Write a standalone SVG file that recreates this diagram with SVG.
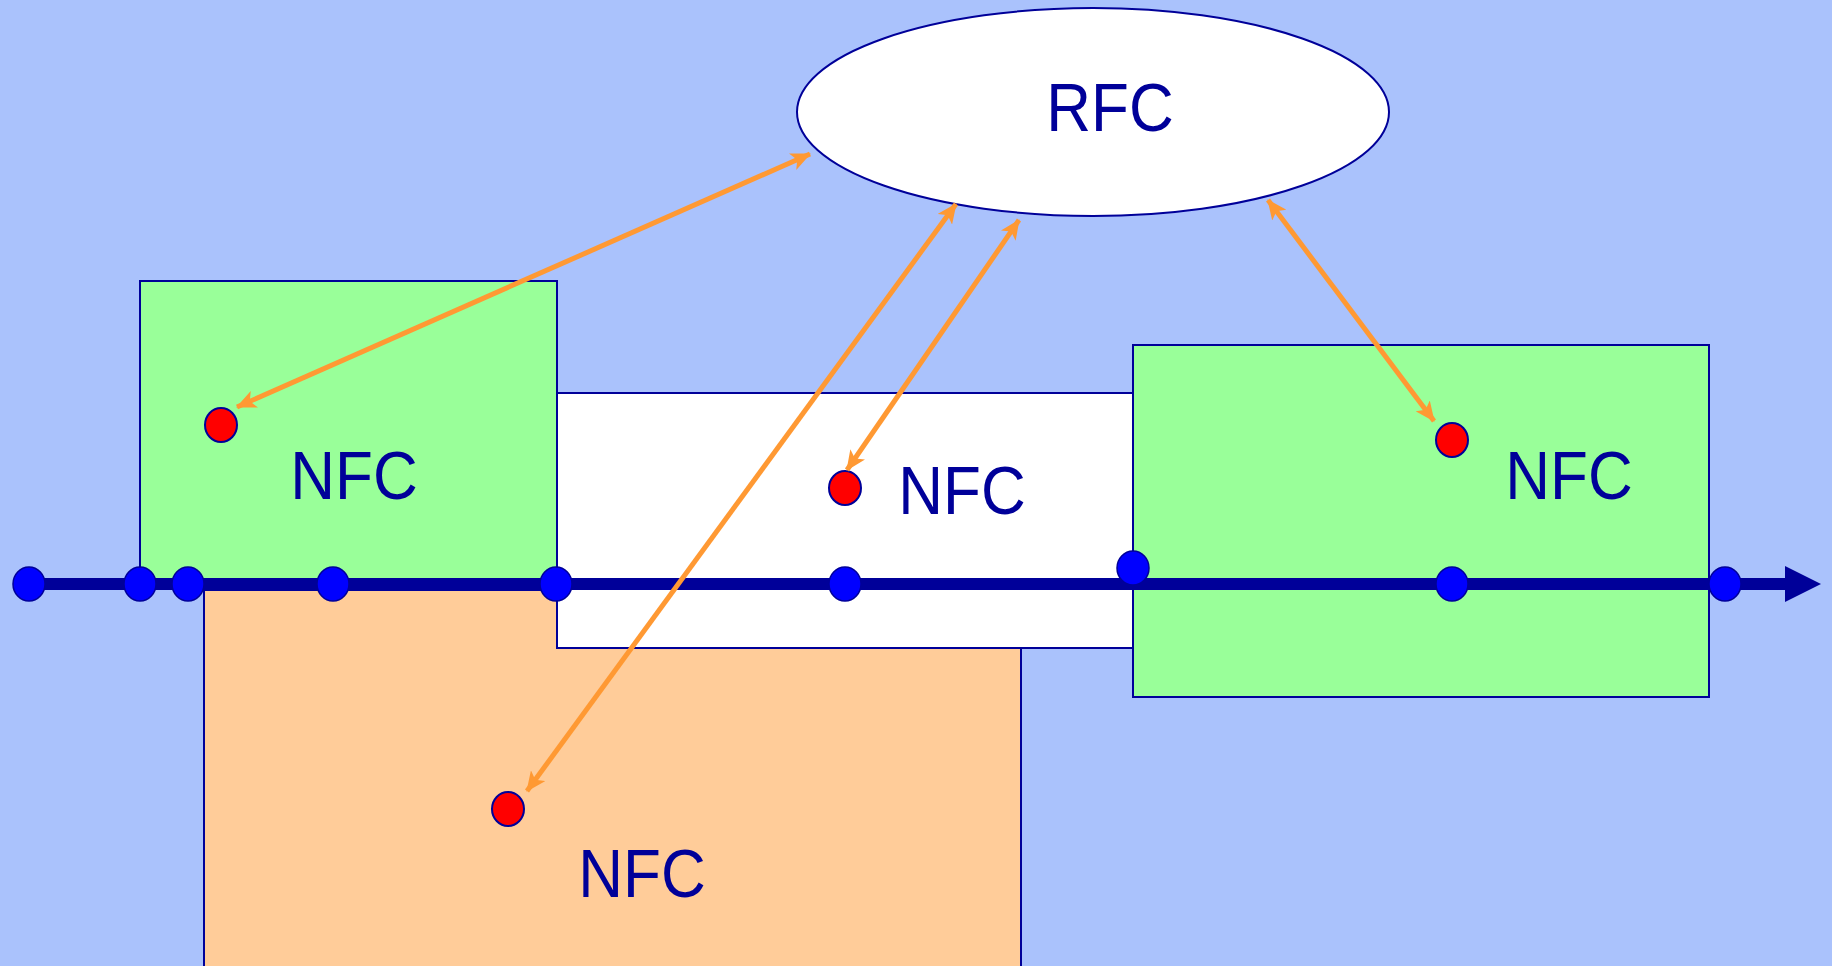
<svg xmlns="http://www.w3.org/2000/svg" width="1832" height="966" viewBox="0 0 1832 966">
<style>
.box{stroke:#000099;stroke-width:2}
.lbl{font-family:"Liberation Sans",Arial,sans-serif;font-size:62px;fill:#000099;text-anchor:middle}
.bd{fill:#0000FF;stroke:#000099;stroke-width:1.5}
.rd{fill:#FF0000;stroke:#000099;stroke-width:2}
.con{stroke:#FF9933;stroke-width:5;fill:none;marker-start:url(#ah);marker-end:url(#ah)}
</style>
<defs>
<marker id="ah" markerUnits="userSpaceOnUse" markerWidth="22" markerHeight="18" refX="19" refY="9" orient="auto-start-reverse">
<path d="M0,0 L20,9 L0,18 L5,9 Z" fill="#FF9933"/>
</marker>
</defs>
<rect x="0" y="0" width="1832" height="966" fill="#AAC2FC"/>
<g id="nfc-orange">
<rect class="box" x="204" y="590" width="817" height="390" fill="#FFCC99"/>
</g>
<g id="nfc-green-left">
<rect class="box" x="140" y="281" width="417" height="303" fill="#99FF99"/>
</g>
<g id="nfc-white">
<rect class="box" x="557" y="393" width="576" height="255" fill="#FFFFFF"/>
</g>
<g id="nfc-green-right">
<rect class="box" x="1133" y="345" width="576" height="352" fill="#99FF99"/>
</g>
<g id="rfc">
<ellipse class="box" cx="1093" cy="112" rx="296" ry="104" fill="#FFFFFF"/>
<text class="lbl" transform="translate(1110,131) scale(1,1.1)">RFC</text>
</g>
<g id="axis">
<line x1="29" y1="584" x2="1790" y2="584" stroke="#000099" stroke-width="12"/>
<path d="M1785,566 L1821,584 L1785,602 Z" fill="#000099"/>
</g>
<g id="points">
<ellipse class="bd" cx="29" cy="584" rx="16" ry="17"/>
<ellipse class="bd" cx="140" cy="584" rx="16" ry="17"/>
<ellipse class="bd" cx="188" cy="584" rx="16" ry="17"/>
<ellipse class="bd" cx="333" cy="584" rx="16" ry="17"/>
<ellipse class="bd" cx="556" cy="584" rx="16" ry="17"/>
<ellipse class="bd" cx="845" cy="584" rx="16" ry="17"/>
<ellipse class="bd" cx="1133" cy="568" rx="16" ry="17"/>
<ellipse class="bd" cx="1452" cy="584" rx="16" ry="17"/>
<ellipse class="bd" cx="1725" cy="584" rx="16" ry="17"/>
</g>
<g id="labels">
<text class="lbl" transform="translate(354,499) scale(1,1.1)">NFC</text>
<text class="lbl" transform="translate(962,514) scale(1,1.1)">NFC</text>
<text class="lbl" transform="translate(1569,499) scale(1,1.1)">NFC</text>
<text class="lbl" transform="translate(642,897) scale(1,1.1)">NFC</text>
</g>
<g id="red-points">
<ellipse class="rd" cx="221" cy="425" rx="16" ry="17"/>
<ellipse class="rd" cx="845" cy="488" rx="16" ry="17"/>
<ellipse class="rd" cx="1452" cy="440" rx="16" ry="17"/>
<ellipse class="rd" cx="508" cy="809" rx="16" ry="17"/>
</g>
<g id="connectors">
<line class="con" x1="237" y1="407" x2="810" y2="154"/>
<line class="con" x1="527" y1="791" x2="956" y2="204"/>
<line class="con" x1="847" y1="470" x2="1019" y2="220"/>
<line class="con" x1="1434" y1="421" x2="1268" y2="200"/>
</g>
</svg>
